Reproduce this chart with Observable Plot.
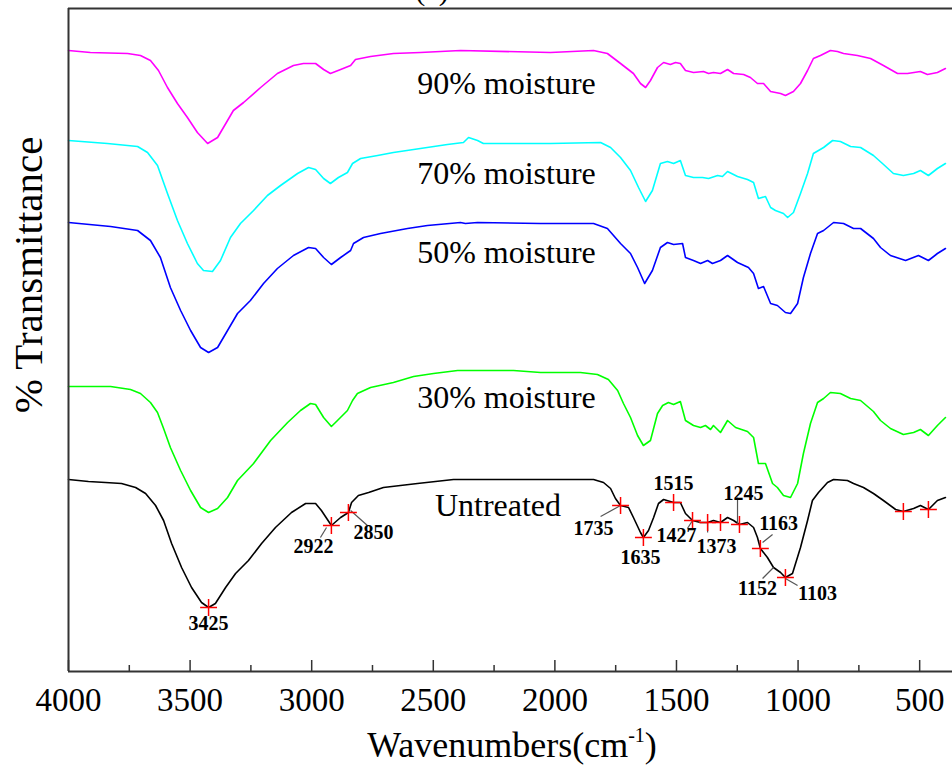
<!DOCTYPE html>
<html><head><meta charset="utf-8">
<script src="https://cdn.jsdelivr.net/npm/d3@7"></script>
<script src="https://cdn.jsdelivr.net/npm/@observablehq/plot@0.6"></script>
<style>body{margin:0;background:#fff} #chart svg{display:block} #chart text{font-family:'Liberation Serif','Times New Roman',serif}</style>
</head><body><div id="chart"></div>
<script>
// Spectra: [wavenumber (cm-1), offset transmittance (a.u.)]
const m90 = [[4000,621],[3910,619],[3757,618],[3704,616],[3663,611],[3630,601],[3593,584],[3552,568],[3511,554],[3470,539],[3428,528],[3387,534],[3346,551],[3322,561],[3280,569],[3210,584],[3141,598],[3075,606],[3034,608],[2984,608],[2951,602],[2923,598],[2881,602],[2840,606],[2820,612],[2758,615],[2664,618],[2553,619],[2388,621],[2018,619],[1841,621],[1784,618],[1730,608],[1677,598],[1648,588],[1627,584],[1607,591],[1578,604],[1553,609],[1525,607],[1504,609],[1484,608],[1463,601],[1430,599],[1389,600],[1368,598],[1348,599],[1319,598],[1290,602],[1265,598],[1224,597],[1196,594],[1167,588],[1142,588],[1113,580],[1072,578],[1052,576],[1019,580],[990,588],[961,601],[937,613],[908,616],[867,621],[838,620],[813,618],[756,616],[702,613],[649,606],[591,598],[550,598],[497,600],[468,597],[427,599],[394,603]];
const m70 = [[4000,531],[3840,528],[3716,525],[3675,519],[3634,506],[3593,478],[3552,451],[3511,428],[3470,408],[3445,401],[3408,400],[3375,411],[3334,434],[3293,448],[3239,461],[3182,476],[3128,486],[3058,498],[3013,504],[2984,502],[2951,493],[2923,488],[2890,494],[2853,499],[2832,508],[2799,513],[2729,516],[2664,519],[2553,523],[2442,527],[2376,529],[2355,534],[2318,531],[2294,528],[2170,528],[2018,528],[1812,529],[1771,524],[1730,514],[1689,501],[1656,484],[1627,470],[1599,481],[1566,508],[1537,510],[1512,508],[1484,511],[1463,496],[1430,494],[1393,494],[1368,493],[1331,496],[1311,495],[1290,500],[1249,495],[1208,492],[1183,489],[1163,473],[1134,475],[1113,464],[1093,461],[1060,458],[1043,454],[1019,459],[990,478],[961,498],[937,518],[895,524],[858,531],[826,530],[784,525],[743,524],[690,516],[653,508],[608,498],[567,496],[525,498],[497,501],[464,496],[427,503],[394,508]];
const m50 = [[4000,449],[3827,445],[3716,441],[3663,431],[3622,414],[3581,384],[3539,361],[3498,341],[3457,324],[3424,319],[3387,324],[3346,341],[3305,358],[3252,371],[3198,388],[3141,403],[3075,416],[3013,424],[2984,423],[2951,414],[2919,407],[2881,414],[2840,421],[2828,428],[2787,434],[2717,438],[2606,443],[2524,446],[2388,449],[2368,448],[2318,449],[2059,448],[1841,448],[1784,443],[1730,428],[1689,418],[1660,404],[1631,388],[1599,401],[1566,424],[1537,429],[1512,427],[1475,428],[1463,414],[1430,411],[1401,408],[1372,411],[1352,408],[1319,411],[1290,416],[1249,409],[1204,404],[1183,398],[1163,383],[1142,385],[1113,368],[1085,366],[1052,359],[1031,358],[1002,368],[978,394],[949,418],[920,438],[895,441],[854,449],[813,448],[772,443],[743,443],[690,433],[661,424],[620,416],[558,411],[505,416],[464,411],[427,418],[394,423]];
const m30 = [[4000,285],[3827,285],[3745,282],[3704,278],[3663,269],[3634,259],[3609,243],[3581,224],[3539,201],[3498,181],[3457,164],[3424,159],[3387,163],[3346,174],[3305,191],[3239,208],[3169,231],[3099,249],[3046,261],[3005,268],[2984,267],[2951,254],[2919,245],[2894,251],[2853,261],[2832,271],[2812,278],[2758,284],[2664,289],[2581,295],[2499,298],[2400,301],[2170,301],[2059,299],[1895,299],[1825,297],[1780,292],[1742,281],[1718,268],[1689,254],[1660,236],[1636,226],[1607,231],[1578,258],[1557,266],[1533,269],[1512,267],[1484,270],[1463,251],[1430,246],[1401,244],[1381,246],[1360,242],[1348,246],[1319,239],[1290,251],[1257,244],[1208,240],[1183,234],[1163,208],[1134,208],[1105,188],[1085,184],[1060,176],[1031,174],[1002,188],[978,218],[949,248],[920,269],[895,273],[867,279],[826,278],[784,273],[743,271],[690,260],[661,251],[620,243],[567,237],[525,239],[497,242],[464,236],[427,246],[394,254]];
const untreated = [[4000,192],[3918,190],[3848,189],[3782,188],[3724,184],[3683,178],[3642,166],[3609,151],[3576,128],[3535,104],[3494,84],[3453,69],[3424,64],[3396,68],[3354,84],[3313,98],[3260,111],[3206,128],[3149,144],[3083,159],[3025,168],[2984,168],[2960,161],[2919,146],[2881,154],[2849,159],[2836,169],[2808,176],[2766,179],[2705,184],[2565,188],[2417,192],[1841,192],[1800,189],[1771,183],[1751,173],[1730,166],[1697,164],[1677,154],[1648,139],[1636,134],[1615,141],[1594,154],[1574,168],[1553,172],[1512,169],[1484,169],[1463,158],[1434,151],[1401,149],[1372,149],[1348,151],[1319,149],[1290,154],[1265,151],[1241,147],[1208,149],[1183,144],[1167,134],[1155,123],[1126,114],[1101,104],[1072,99],[1052,94],[1023,98],[990,124],[961,151],[941,171],[916,179],[879,189],[854,192],[797,191],[772,188],[731,184],[690,178],[649,171],[599,162],[567,160],[525,163],[497,166],[464,162],[427,171],[394,174]];

const seriesNames = ["90% moisture", "70% moisture", "50% moisture", "30% moisture", "Untreated"];
const seriesColors = ["#ff00ff", "#00ffff", "#0000ff", "#00ff00", "#000000"];
const seriesData = [m90, m70, m50, m30, untreated];

// Curve labels: [text, wavenumber, transmittance]
const curveLabels = [["90% moisture",2199,588],["70% moisture",2199,498],["50% moisture",2199,419],["30% moisture",2199,274],["Untreated",2234,166]];

// Marked peaks on the untreated spectrum
const peaks = [[3424,64],[2919,146],[2849,159],[1730,166],[1636,134],[1512,169],[1434,151],[1372,149],[1319,149],[1241,147],[1155,123],[1052,94],[567,160],[464,162]];
const peakLabels = [["3425",3424,48],["2922",2993,125],["2850",2746,139],["1735",1841,143],["1635",1648,114],["1515",1512,188],["1427",1500,136],["1373",1335,125],["1245",1224,178],["1163",1080,148],["1152",1167,83],["1103",920,78]];
const leaders = [[2939,144,2964,134],[2840,161,2771,146],[1730,166,1812,155],[1434,151,1455,143],[1372,149,1372,139],[1249,174,1249,147],[1146,129,1105,137],[1101,104,1146,93],[1052,93,1002,86]];

const majorTicks = [4000,3500,3000,2500,2000,1500,1000,500];
const minorTicks = [3750,3250,2750,2250,1750,1250,750];
const xDomain = [4000, 365];
const yDomain = [0, 663];

const rows = seriesData.flatMap((arr, k) => arr.map(([w, t]) => ({series: seriesNames[k], w, t})));
const serif = "Liberation Serif";

const chart = Plot.plot({
  width: 952, height: 767,
  marginLeft: 68, marginRight: 0, marginTop: 8, marginBottom: 96,
  x: {domain: xDomain},
  y: {domain: yDomain, axis: null},
  color: {domain: seriesNames, range: seriesColors},
  style: {fontFamily: serif, background: "white", color: "black", overflow: "hidden"},
  marks: [
    Plot.line(rows, {x: "w", y: "t", z: "series", stroke: "series", strokeWidth: 1.6}),
    Plot.link(leaders, {x1: d => d[0], y1: d => d[1], x2: d => d[2], y2: d => d[3], stroke: "#555", strokeWidth: 1.2}),
    Plot.dot(peaks, {x: d => d[0], y: d => d[1], symbol: "plus", r: 5.5, stroke: "#ff0000", strokeWidth: 1.5}),
    Plot.text(peakLabels, {x: d => d[1], y: d => d[2], text: d => d[0], fontSize: 20, fontWeight: "bold", fill: "black", fontFamily: serif}),
    Plot.text(curveLabels, {x: d => d[1], y: d => d[2], text: d => d[0], fontSize: 32, fill: "black", fontFamily: serif}),
    Plot.ruleX(majorTicks, {x: d => d, y1: 0, y2: 11, stroke: "#333", strokeWidth: 1.5}),
    Plot.ruleX(minorTicks, {x: d => d, y1: 0, y2: 6, stroke: "#333", strokeWidth: 1.5}),
    Plot.ruleX([xDomain[0]], {stroke: "#333", strokeWidth: 2}),
    Plot.ruleY(yDomain, {stroke: "#333", strokeWidth: 2}),
    Plot.axisX({ticks: majorTicks, tickSize: 0, tickPadding: 16, fontSize: 33, fontFamily: serif, tickFormat: d => String(d), label: null})
  ]
});
chart.setAttribute("font-family", serif);
document.getElementById("chart").appendChild(chart);

const svg = d3.select(chart);
// x title with superscript
const xt = svg.append("text").attr("x", 512).attr("y", 757).attr("text-anchor", "middle")
  .attr("font-family", serif).attr("font-size", 36).attr("fill", "black");
xt.append("tspan").text("Wavenumbers(cm");
xt.append("tspan").attr("font-size", 20).attr("dy", -15).text("-1");
xt.append("tspan").attr("dy", 15).text(")");
// y title
svg.append("text").attr("transform", "translate(42,275) rotate(-90)").attr("text-anchor", "middle")
  .attr("font-family", serif).attr("font-size", 41).attr("fill", "black").text("% Transmittance");
// panel label, mostly cut off at top as in the reference
svg.append("text").attr("x", 432).attr("y", 0).attr("text-anchor", "middle")
  .attr("font-family", serif).attr("font-size", 30).attr("fill", "black").text("(a)");
</script>
</body></html>
